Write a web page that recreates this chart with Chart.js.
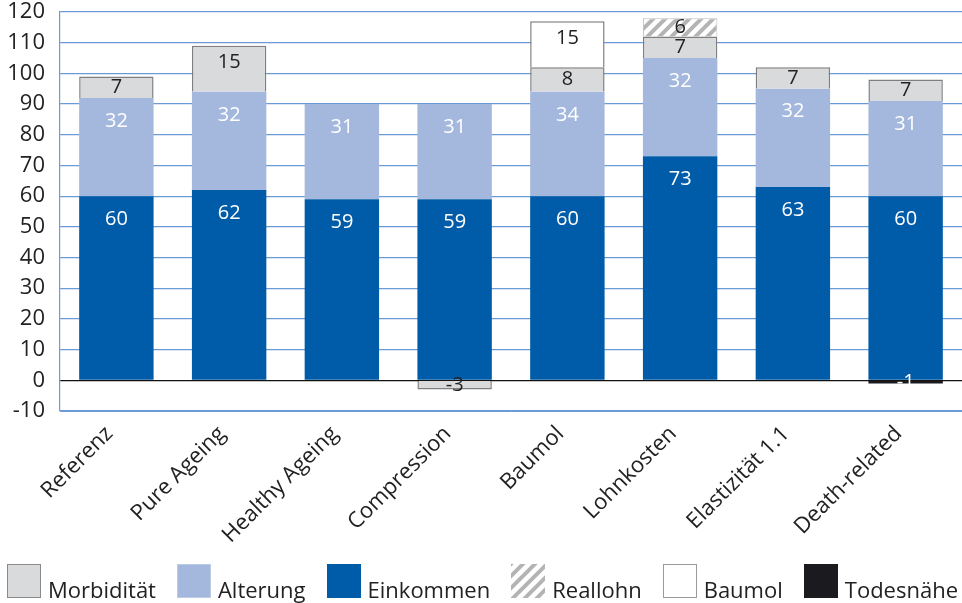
<!DOCTYPE html>
<html lang="de">
<head>
<meta charset="utf-8">
<title>Szenarien – Ausgabenkomponenten</title>
<script src="https://cdn.jsdelivr.net/npm/chart.js@4.4.1/dist/chart.umd.min.js"></script>
<style>
  html, body { margin: 0; padding: 0; background: #fff; }
  #wrap { position: relative; width: 962px; height: 603px; }
  #legend {
    position: absolute; left: 7px; top: 564px;
    display: flex; align-items: baseline;
    font: 22px "Open Sans", "Noto Sans", sans-serif; color: #222;
  }
  .lg-item { display: flex; align-items: baseline; margin-right: 21px; }
  .lg-box  { display: inline-block; width: 34px; height: 34px; box-sizing: border-box; margin-right: 7px; }
</style>
</head>
<body>
<div id="wrap">
  <canvas id="chart"></canvas>
  <div id="legend"></div>
</div>
<script>
// ── Data ──
const SCENARIOS = ['Referenz', 'Pure Ageing', 'Healthy Ageing', 'Compression',
                   'Baumol', 'Lohnkosten', 'Elastizität 1.1', 'Death-related'];

const EINKOMMEN  = [60, 62, 59, 59, 60, 73, 63, 60];
const ALTERUNG   = [32, 32, 31, 31, 34, 32, 32, 31];
const MORBIDITAT = [7, 15, null, -3, 8, 7, 7, 7];
const REALLOHN   = [null, null, null, null, null, 6, null, null];
const BAUMOL     = [null, null, null, null, 15, null, null, null];
const TODESNAHE  = [null, null, null, null, null, null, null, -1];

const Y_MIN = -10, Y_MAX = 120, Y_STEP = 10;

// legend order differs from stacking order
const LEGEND_ORDER = ['Morbidität', 'Alterung', 'Einkommen', 'Reallohn', 'Baumol', 'Todesnähe'];

// ── Styles ──
const FONT  = '"Open Sans", "Noto Sans", sans-serif';
const GRID  = '#6b9bd6';
const TEXT  = '#222';

// diagonal hatch tile, used for the bar and the legend swatch
const hatchTile = document.createElement('canvas');
(function () {
  hatchTile.width = hatchTile.height = 12;
  const g = hatchTile.getContext('2d');
  g.fillStyle = '#fff';
  g.fillRect(0, 0, 12, 12);
  g.strokeStyle = '#b4b4b4';
  g.lineWidth = 4;
  g.beginPath();
  g.moveTo(-3, 15); g.lineTo(15, -3);
  g.moveTo(-3, 3);  g.lineTo(3, -3);
  g.moveTo(9, 15);  g.lineTo(15, 9);
  g.stroke();
})();
const HATCH = hatchTile.getContext('2d').createPattern(hatchTile, 'repeat');

// ── Value labels inside the segments ──
const segLabels = {
  id: 'segLabels',
  afterDatasetsDraw(chart) {
    const ctx = chart.ctx;
    ctx.save();
    ctx.font = '20px ' + FONT;
    ctx.textAlign = 'center';
    ctx.textBaseline = 'middle';
    chart.data.datasets.forEach((ds, i) => {
      const meta = chart.getDatasetMeta(i);
      meta.data.forEach((bar, j) => {
        const v = ds.data[j];
        if (v == null) return;
        const top = Math.min(bar.y, bar.base);
        const h   = Math.abs(bar.base - bar.y);
        ctx.fillStyle = ds.labelColor;
        ctx.fillText(String(v), bar.x, top + Math.min(h / 2, ds.labelOffset));
      });
    });
    ctx.restore();
  }
};

const chart = new Chart(document.getElementById('chart'), {
  type: 'bar',
  data: {
    labels: SCENARIOS,
    datasets: [
      { label: 'Einkommen',  data: EINKOMMEN,  backgroundColor: '#005ca9', borderWidth: 0,
        labelColor: '#fff', labelOffset: 23, swatchBorder: 'none' },
      { label: 'Alterung',   data: ALTERUNG,   backgroundColor: '#a3b8dc', borderWidth: 0,
        labelColor: '#fff', labelOffset: 23, swatchBorder: '1px solid #bccbe6' },
      { label: 'Morbidität', data: MORBIDITAT, backgroundColor: '#d9dadb', borderColor: '#7f7f7f', borderWidth: 1.5,
        labelColor: TEXT, labelOffset: 17, swatchBorder: '1.5px solid #8a8a8a' },
      { label: 'Reallohn',   data: REALLOHN,   backgroundColor: HATCH, borderColor: '#bdbdbd', borderWidth: 1,
        labelColor: TEXT, labelOffset: 17, swatchBorder: 'none', swatchImage: hatchTile.toDataURL() },
      { label: 'Baumol',     data: BAUMOL,     backgroundColor: '#ffffff', borderColor: '#7f7f7f', borderWidth: 1.5,
        labelColor: TEXT, labelOffset: 17, swatchBorder: '1.5px solid #9a9a9a' },
      { label: 'Todesnähe',  data: TODESNAHE,  backgroundColor: '#1b1a1f', borderWidth: 0,
        labelColor: '#fff', labelOffset: 17, swatchBorder: 'none' },
    ],
  },
  options: {
    responsive: true, maintainAspectRatio: false,
    animation: false,
    layout: { padding: { top: 0, right: 0, left: 0, bottom: 52 } },
    datasets: { bar: { categoryPercentage: 1, barPercentage: 0.66 } },
    plugins: {
      tooltip: { enabled: false },
      legend:  { display: false },
    },
    scales: {
      x: {
        stacked: true,
        grid: { display: false },
        border: { color: GRID },
        ticks: {
          color: TEXT, font: { family: FONT, size: 22 },
          maxRotation: 45, minRotation: 45, padding: 2, labelOffset: -7,
        },
        afterFit: s => { s.height = 140; },
      },
      y: {
        stacked: true,
        min: Y_MIN, max: Y_MAX,
        grid: {
          drawTicks: false,
          color: c => c.tick.value === 0 ? '#111' : GRID,
          lineWidth: 1.2,
        },
        border: { color: GRID, width: 1.2 },
        ticks: {
          stepSize: Y_STEP, color: TEXT, padding: 15,
          font: { family: FONT, size: 22 },
        },
        // fixed axis width; keep only half a label of room above the top tick
        afterFit: s => { s.width = 60; s.paddingTop = 12; s.paddingBottom = 0; },
      },
    },
  },
  plugins: [segLabels],
});

// ── Legend (HTML, built from the datasets) ──
const legend = document.getElementById('legend');
LEGEND_ORDER.forEach(name => {
  const ds = chart.data.datasets.find(d => d.label === name);
  const item = document.createElement('div');
  item.className = 'lg-item';
  const box = document.createElement('span');
  box.className = 'lg-box';
  box.style.border = ds.swatchBorder;
  if (ds.swatchImage) box.style.backgroundImage = `url(${ds.swatchImage})`;
  else box.style.background = ds.backgroundColor;
  const txt = document.createElement('span');
  txt.textContent = ds.label;
  item.appendChild(box);
  item.appendChild(txt);
  legend.appendChild(item);
});
</script>
</body>
</html>
